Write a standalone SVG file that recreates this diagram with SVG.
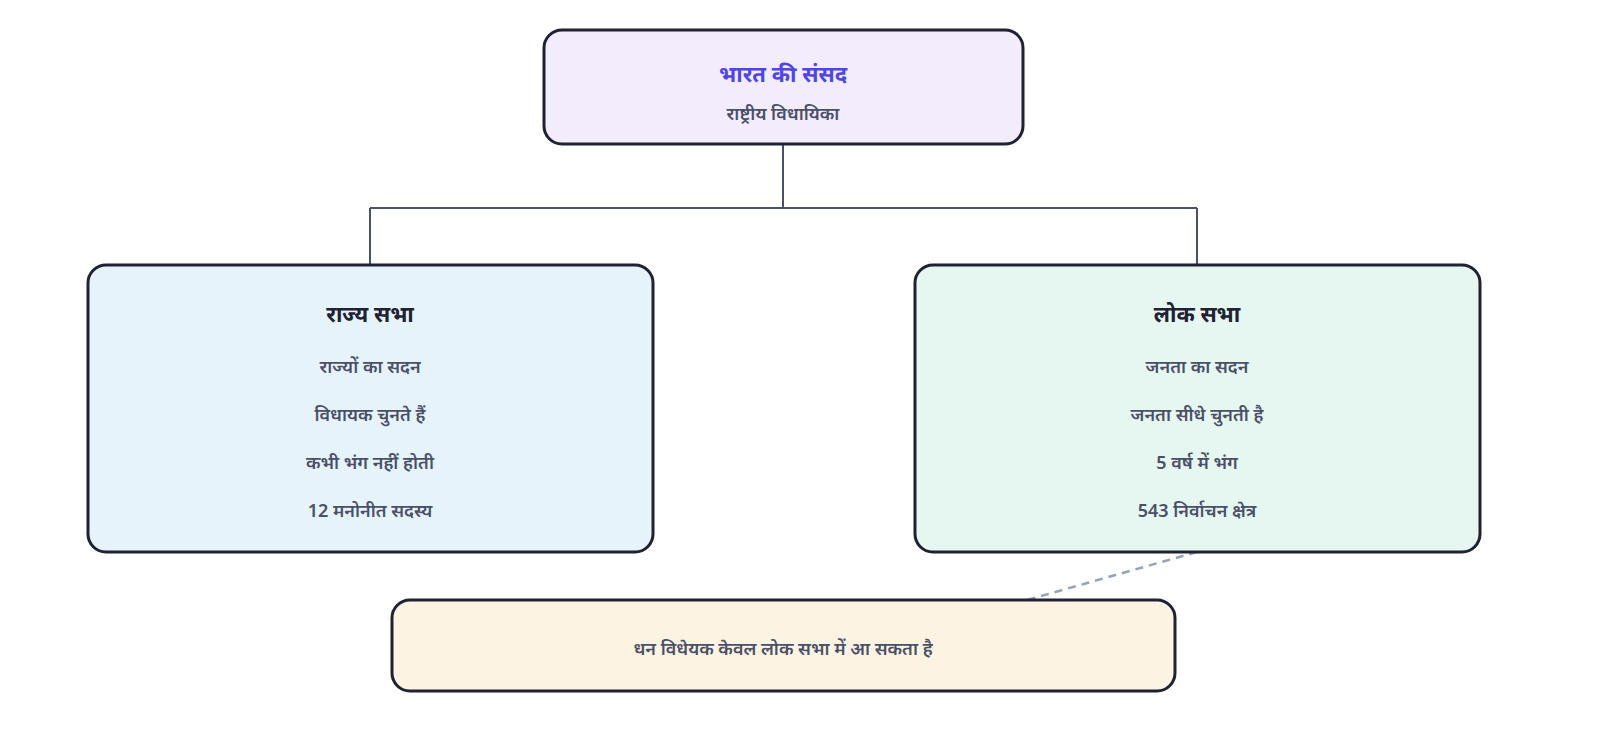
<svg xmlns="http://www.w3.org/2000/svg" width="1600" height="733" viewBox="0 0 1600 733">
<style>
.box{stroke:#1e2233;stroke-width:3}
text{font-family:"Noto Sans","Noto Sans Devanagari","Lato",sans-serif;text-anchor:middle;font-weight:600}
.t{font-size:22px;fill:#1e2233;font-weight:700}
.s{font-size:18px;fill:#4a5068}
.c{stroke:#4a5068;stroke-width:2;fill:none}
</style>
<rect width="1600" height="733" fill="#fff"/>
<g id="connectors">
<path class="c" d="M783 144V208M370 208H1197M370 208V265M1197 208V265"/>
<path d="M1197 552L1027 600" stroke="#94a3b8" stroke-width="2.5" stroke-dasharray="8 6" fill="none"/>
</g>
<g id="parliament">
<rect class="box" x="544" y="30" width="479" height="114" rx="18" fill="#f3ecfd"/>
<text x="783" y="82" class="t" style="fill:#4f46e5">भारत की संसद</text>
<text x="783" y="120" class="s">राष्ट्रीय विधायिका</text>
</g>
<g id="rajya-sabha">
<rect class="box" x="88" y="265" width="565" height="287" rx="18" fill="#e6f3fb"/>
<text x="370" y="322" class="t">राज्य सभा</text>
<text x="370" y="373" class="s">राज्यों का सदन</text>
<text x="370" y="421" class="s">विधायक चुनते हैं</text>
<text x="370" y="469" class="s">कभी भंग नहीं होती</text>
<text x="370" y="517" class="s">12 मनोनीत सदस्य</text>
</g>
<g id="lok-sabha">
<rect class="box" x="915" y="265" width="565" height="287" rx="18" fill="#e6f6f1"/>
<text x="1197" y="322" class="t">लोक सभा</text>
<text x="1197" y="373" class="s">जनता का सदन</text>
<text x="1197" y="421" class="s">जनता सीधे चुनती है</text>
<text x="1197" y="469" class="s">5 वर्ष में भंग</text>
<text x="1197" y="517" class="s">543 निर्वाचन क्षेत्र</text>
</g>
<g id="note">
<rect class="box" x="392" y="600" width="783" height="91" rx="18" fill="#fdf3e2"/>
<text x="783" y="655" class="s">धन विधेयक केवल लोक सभा में आ सकता है</text>
</g>
</svg>
